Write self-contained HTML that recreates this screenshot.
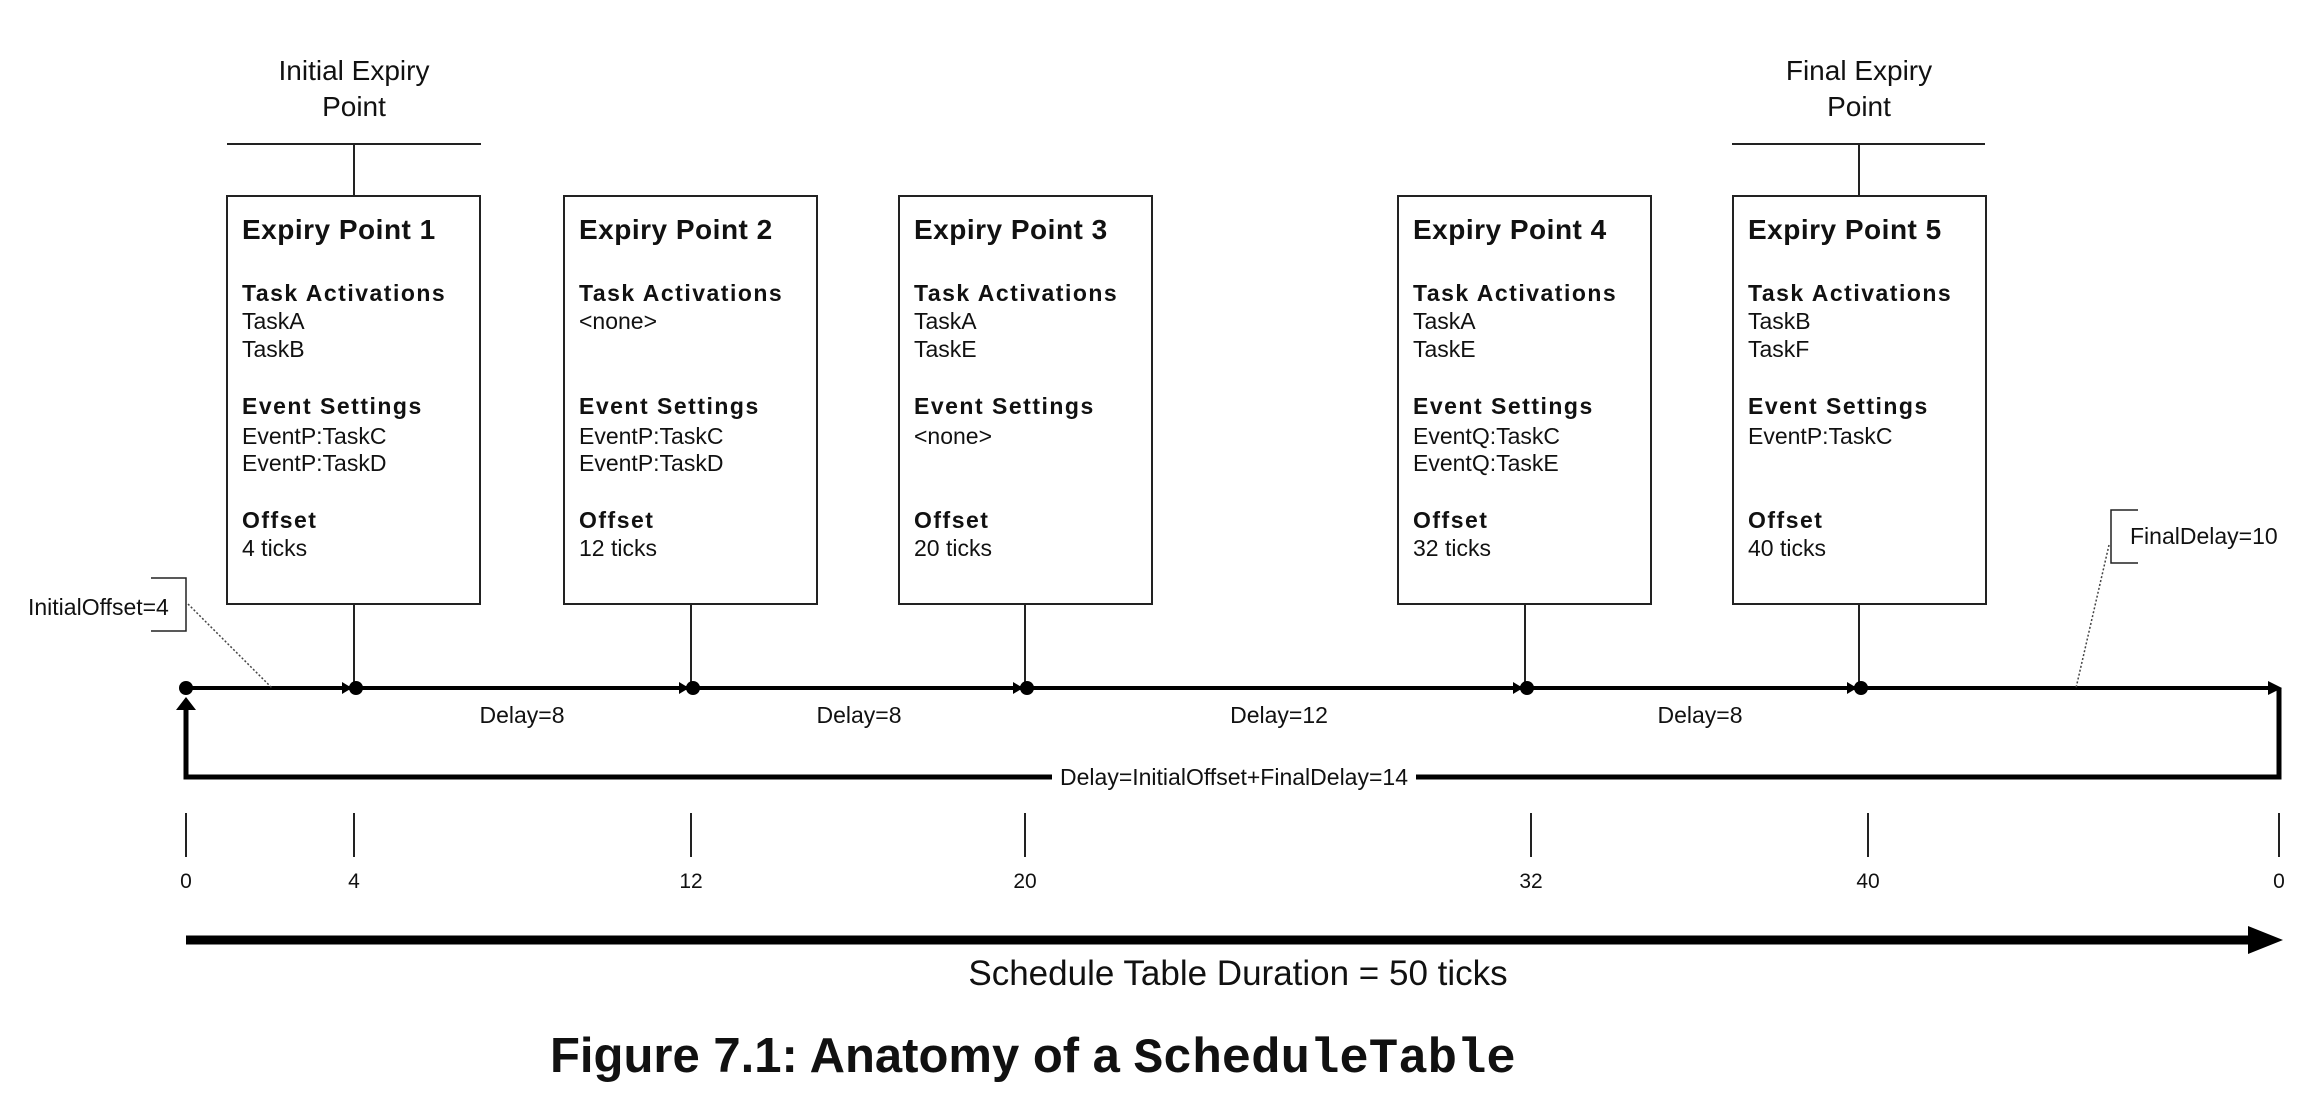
<!DOCTYPE html>
<html><head><meta charset="utf-8"><style>
html,body{margin:0;padding:0;background:#fff;}
svg{display:block;}
text{font-family:"Liberation Sans",Arial,sans-serif;fill:#111;}
.h{font-weight:bold;font-size:28px;letter-spacing:0.5px;}
.s{font-weight:bold;font-size:23px;letter-spacing:1.5px;}
.b{font-size:23px;}
</style></head><body>
<svg width="2318" height="1105" viewBox="0 0 2318 1105" xmlns="http://www.w3.org/2000/svg">
<!-- top labels -->
<text x="354" y="80" font-size="28" text-anchor="middle">Initial Expiry</text>
<text x="354" y="116" font-size="28" text-anchor="middle">Point</text>
<line x1="227" y1="144" x2="481" y2="144" stroke="#222" stroke-width="2"/>
<line x1="354" y1="144" x2="354" y2="196" stroke="#222" stroke-width="2"/>
<text x="1859" y="80" font-size="28" text-anchor="middle">Final Expiry</text>
<text x="1859" y="116" font-size="28" text-anchor="middle">Point</text>
<line x1="1732" y1="144" x2="1985" y2="144" stroke="#222" stroke-width="2"/>
<line x1="1859" y1="144" x2="1859" y2="196" stroke="#222" stroke-width="2"/>

<!-- boxes -->
<g fill="#fff" stroke="#222" stroke-width="2">
<rect x="227" y="196" width="253" height="408"/>
<rect x="564" y="196" width="253" height="408"/>
<rect x="899" y="196" width="253" height="408"/>
<rect x="1398" y="196" width="253" height="408"/>
<rect x="1733" y="196" width="253" height="408"/>
</g>
<g>
<text class="h" x="242" y="239">Expiry Point 1</text>
<text class="s" x="242" y="301">Task Activations</text>
<text class="b" x="242" y="329">TaskA</text>
<text class="b" x="242" y="357">TaskB</text>
<text class="s" x="242" y="414">Event Settings</text>
<text class="b" x="242" y="444">EventP:TaskC</text>
<text class="b" x="242" y="471">EventP:TaskD</text>
<text class="s" x="242" y="528">Offset</text>
<text class="b" x="242" y="556">4 ticks</text>
</g>
<g>
<text class="h" x="579" y="239">Expiry Point 2</text>
<text class="s" x="579" y="301">Task Activations</text>
<text class="b" x="579" y="329">&lt;none&gt;</text>
<text class="s" x="579" y="414">Event Settings</text>
<text class="b" x="579" y="444">EventP:TaskC</text>
<text class="b" x="579" y="471">EventP:TaskD</text>
<text class="s" x="579" y="528">Offset</text>
<text class="b" x="579" y="556">12 ticks</text>
</g>
<g>
<text class="h" x="914" y="239">Expiry Point 3</text>
<text class="s" x="914" y="301">Task Activations</text>
<text class="b" x="914" y="329">TaskA</text>
<text class="b" x="914" y="357">TaskE</text>
<text class="s" x="914" y="414">Event Settings</text>
<text class="b" x="914" y="444">&lt;none&gt;</text>
<text class="s" x="914" y="528">Offset</text>
<text class="b" x="914" y="556">20 ticks</text>
</g>
<g>
<text class="h" x="1413" y="239">Expiry Point 4</text>
<text class="s" x="1413" y="301">Task Activations</text>
<text class="b" x="1413" y="329">TaskA</text>
<text class="b" x="1413" y="357">TaskE</text>
<text class="s" x="1413" y="414">Event Settings</text>
<text class="b" x="1413" y="444">EventQ:TaskC</text>
<text class="b" x="1413" y="471">EventQ:TaskE</text>
<text class="s" x="1413" y="528">Offset</text>
<text class="b" x="1413" y="556">32 ticks</text>
</g>
<g>
<text class="h" x="1748" y="239">Expiry Point 5</text>
<text class="s" x="1748" y="301">Task Activations</text>
<text class="b" x="1748" y="329">TaskB</text>
<text class="b" x="1748" y="357">TaskF</text>
<text class="s" x="1748" y="414">Event Settings</text>
<text class="b" x="1748" y="444">EventP:TaskC</text>
<text class="s" x="1748" y="528">Offset</text>
<text class="b" x="1748" y="556">40 ticks</text>
</g>

<!-- connectors from boxes -->
<g stroke="#222" stroke-width="2">
<line x1="354" y1="604" x2="354" y2="688"/>
<line x1="691" y1="604" x2="691" y2="688"/>
<line x1="1025" y1="604" x2="1025" y2="688"/>
<line x1="1525" y1="604" x2="1525" y2="688"/>
<line x1="1859" y1="604" x2="1859" y2="688"/>
</g>

<!-- timeline -->
<line x1="186" y1="688" x2="2270" y2="688" stroke="#000" stroke-width="4"/>
<polygon points="2268,681 2282,688 2268,695" fill="#000"/>
<circle cx="186" cy="688" r="7" fill="#000"/>
<g fill="#000">
<circle cx="356" cy="688" r="7"/><polygon points="342,682 352,688 342,694"/>
<circle cx="693" cy="688" r="7"/><polygon points="679,682 689,688 679,694"/>
<circle cx="1027" cy="688" r="7"/><polygon points="1013,682 1023,688 1013,694"/>
<circle cx="1527" cy="688" r="7"/><polygon points="1513,682 1523,688 1513,694"/>
<circle cx="1861" cy="688" r="7"/><polygon points="1847,682 1857,688 1847,694"/>
</g>

<!-- loop -->
<polyline points="2279,688 2279,777 186,777 186,708" fill="none" stroke="#000" stroke-width="5"/>
<polygon points="176,710 186,697 196,710" fill="#000"/>
<rect x="1052" y="764" width="364" height="26" fill="#fff"/>
<text x="1234" y="785" font-size="23" text-anchor="middle">Delay=InitialOffset+FinalDelay=14</text>

<!-- delays -->
<g font-size="23" text-anchor="middle">
<text x="522" y="723">Delay=8</text>
<text x="859" y="723">Delay=8</text>
<text x="1279" y="723">Delay=12</text>
<text x="1700" y="723">Delay=8</text>
</g>

<!-- InitialOffset -->
<text x="28" y="615" font-size="23">InitialOffset=4</text>
<polyline points="151,578 186,578 186,631 151,631" fill="none" stroke="#222" stroke-width="1.5"/>
<line x1="188" y1="604" x2="272" y2="688" stroke="#444" stroke-width="1.5" stroke-dasharray="2,2"/>

<!-- FinalDelay -->
<polyline points="2138,510 2111,510 2111,563 2138,563" fill="none" stroke="#222" stroke-width="1.5"/>
<text x="2130" y="544" font-size="23">FinalDelay=10</text>
<line x1="2109" y1="545" x2="2076" y2="688" stroke="#444" stroke-width="1.5" stroke-dasharray="2,2"/>

<!-- tick marks -->
<g stroke="#222" stroke-width="2">
<line x1="186" y1="813" x2="186" y2="857"/>
<line x1="354" y1="813" x2="354" y2="857"/>
<line x1="691" y1="813" x2="691" y2="857"/>
<line x1="1025" y1="813" x2="1025" y2="857"/>
<line x1="1531" y1="813" x2="1531" y2="857"/>
<line x1="1868" y1="813" x2="1868" y2="857"/>
<line x1="2279" y1="813" x2="2279" y2="857"/>
</g>
<g font-size="21" text-anchor="middle">
<text x="186" y="888">0</text>
<text x="354" y="888">4</text>
<text x="691" y="888">12</text>
<text x="1025" y="888">20</text>
<text x="1531" y="888">32</text>
<text x="1868" y="888">40</text>
<text x="2279" y="888">0</text>
</g>

<!-- duration arrow -->
<line x1="186" y1="940" x2="2252" y2="940" stroke="#000" stroke-width="9"/>
<polygon points="2248,926 2283,940 2248,954" fill="#000"/>
<text x="1238" y="985" font-size="35" text-anchor="middle">Schedule Table Duration = 50 ticks</text>

<!-- caption -->
<text x="550" y="1072" font-size="49" font-weight="bold">Figure 7.1: Anatomy of a <tspan font-family="Liberation Mono, monospace">ScheduleTable</tspan></text>
</svg>
</body></html>
